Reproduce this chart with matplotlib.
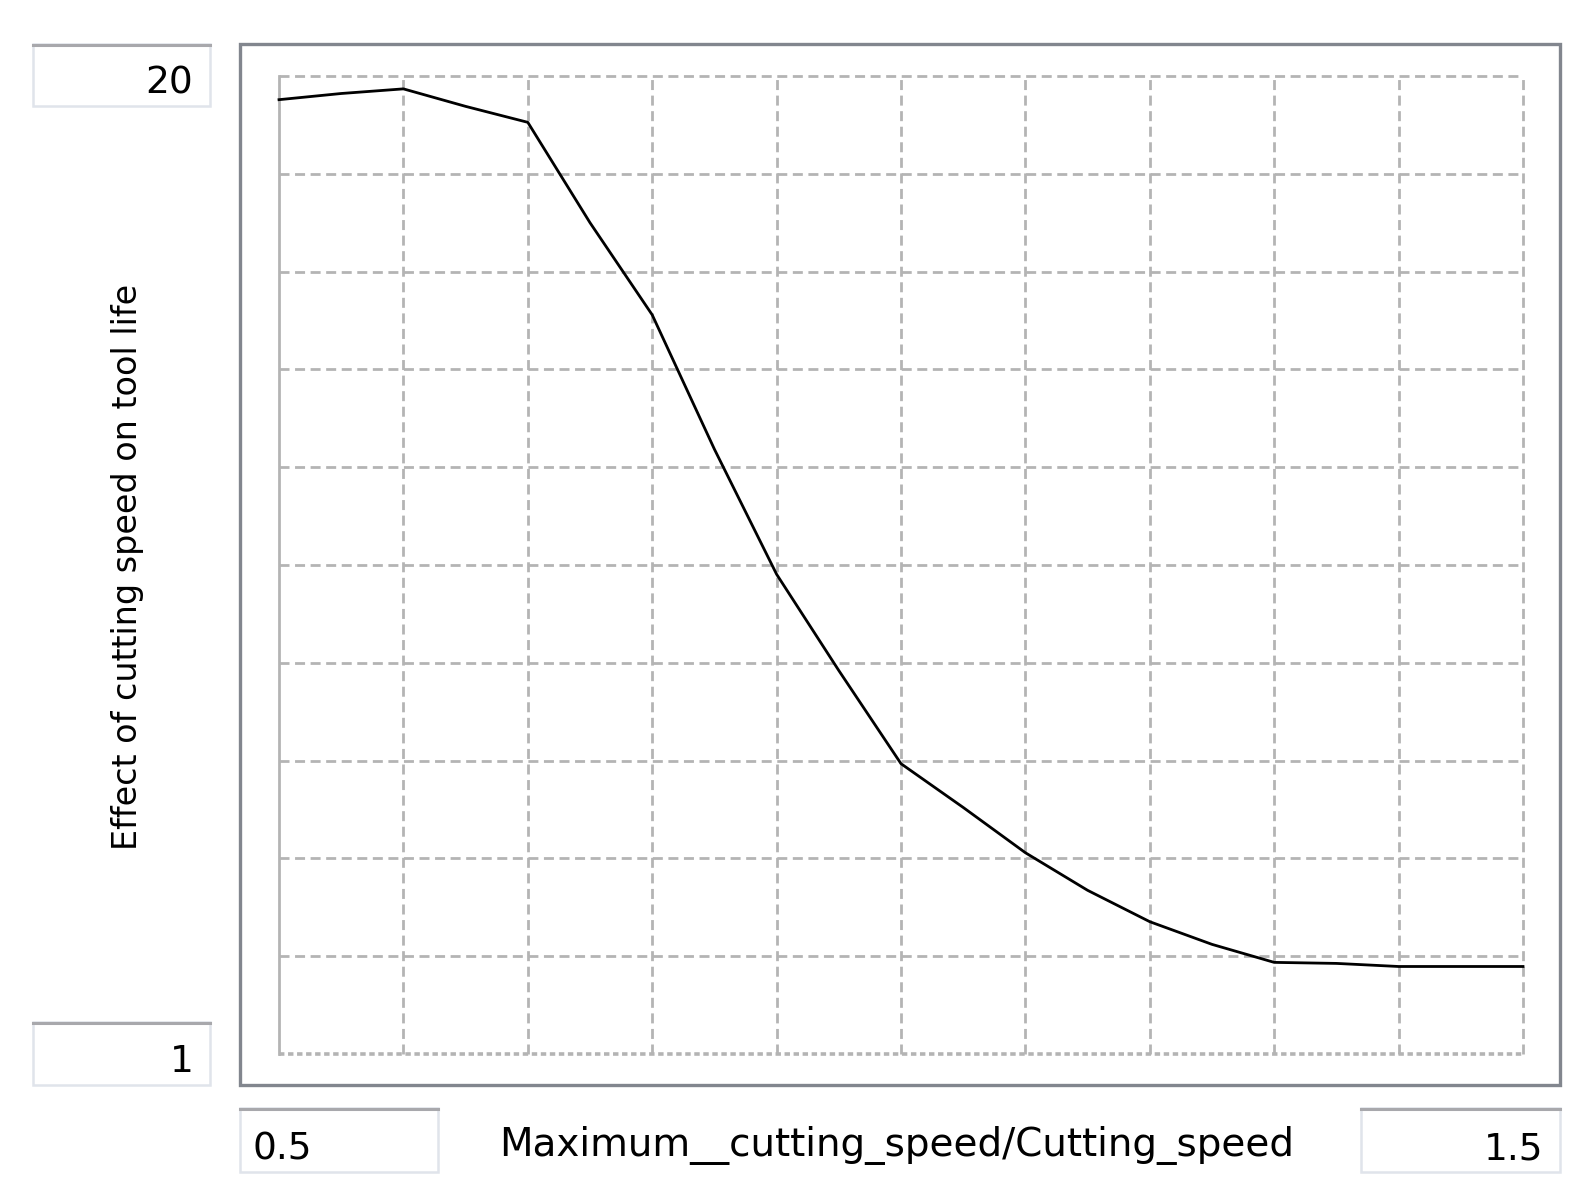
import matplotlib
matplotlib.use("Agg")
import matplotlib.pyplot as plt
from matplotlib.patches import Rectangle
from matplotlib.lines import Line2D
import numpy as np

# lookup table
speed_ratio = [0.5, 0.55, 0.6, 0.65, 0.7, 0.75, 0.8, 0.85, 0.9, 0.95, 1.0,
               1.05, 1.1, 1.15, 1.2, 1.25, 1.3, 1.35, 1.4, 1.5]
tool_life_effect = [19.54, 19.66, 19.75, 19.41, 19.1, 17.15, 15.36, 12.75, 10.32,
                    8.45, 6.64, 5.79, 4.91, 4.18, 3.57, 3.13, 2.78, 2.76, 2.70, 2.70]

x_min, x_max = 0.5, 1.5
y_min, y_max = 1, 20
x_label = "Maximum__cutting_speed/Cutting_speed"
y_label = "Effect of cutting speed on tool life"

W, H = 1587, 1200
plt.rcParams['font.family'] = ['DejaVu Sans']

fig = plt.figure(figsize=(W / 100, H / 100), dpi=100)


def fx(px):
    return px / W


def fy(py):
    return 1 - py / H


# plot area (inner grid)
left, top, right, bottom = 279, 76, 1523, 1054
ax = fig.add_axes([fx(left), fy(bottom), fx(right - left), (bottom - top) / H])
ax.set_xlim(x_min, x_max)
ax.set_ylim(y_min, y_max)
for s in ax.spines.values():
    s.set_visible(False)
ax.set_xticks([])
ax.set_yticks([])

grid_col = "#b4b4b4"
dash = (0, (3.6, 2.0))
xs = np.linspace(x_min, x_max, 11)
ys = np.linspace(y_min, y_max, 11)
for xv in xs[1:]:
    ax.plot([xv, xv], [y_min, y_max], color=grid_col, lw=2.0, ls=dash,
            clip_on=False, zorder=1)
for yv in ys[1:]:
    ax.plot([x_min, x_max], [yv, yv], color=grid_col, lw=2.0, ls=dash,
            clip_on=False, zorder=1)
# left edge solid, bottom edge dotted
ax.plot([x_min, x_min], [y_min, y_max], color=grid_col, lw=2.0,
        clip_on=False, zorder=1)
ax.plot([x_min, x_max], [y_min, y_min], color=grid_col, lw=2.6, ls=(0, (1.5, 1.0)),
        clip_on=False, zorder=1)

ax.plot(speed_ratio, tool_life_effect, color="black", lw=2.0, zorder=3,
        clip_on=False)

# outer frame
fig.patches.append(Rectangle((fx(240), fy(1085)), fx(1560 - 240), (1085 - 44) / H,
                             transform=fig.transFigure, fill=False,
                             edgecolor="#82868e", lw=2.4))


def value_box(x0, y0, x1, y1):
    fig.patches.append(Rectangle((fx(x0), fy(y1)), fx(x1 - x0), (y1 - y0) / H,
                                 transform=fig.transFigure, fill=False,
                                 edgecolor="#e0e4eb", lw=1.8))
    fig.lines.append(Line2D([fx(x0), fx(x1)], [fy(y0 + 1), fy(y0 + 1)],
                            transform=fig.transFigure, color="#a8a8ac", lw=2.2))


value_box(33, 44, 210, 106)
value_box(33, 1022, 210, 1085)
value_box(240, 1108, 438, 1172)
value_box(1361, 1108, 1560, 1172)

fs = 27
fig.text(fx(193), fy(93), "20", ha="right", va="baseline", fontsize=fs)
fig.text(fx(194), fy(1072), "1", ha="right", va="baseline", fontsize=fs)
fig.text(fx(253), fy(1159), "0.5", ha="left", va="baseline", fontsize=fs)
fig.text(fx(1543), fy(1159), "1.5", ha="right", va="baseline", fontsize=fs)
fig.text(fx(897), fy(1156), x_label, ha="center", va="baseline", fontsize=28)
fig.text(fx(128), fy(567), y_label, ha="center", va="center", rotation=90,
         fontsize=24)

fig.savefig("out.png", dpi=100)
